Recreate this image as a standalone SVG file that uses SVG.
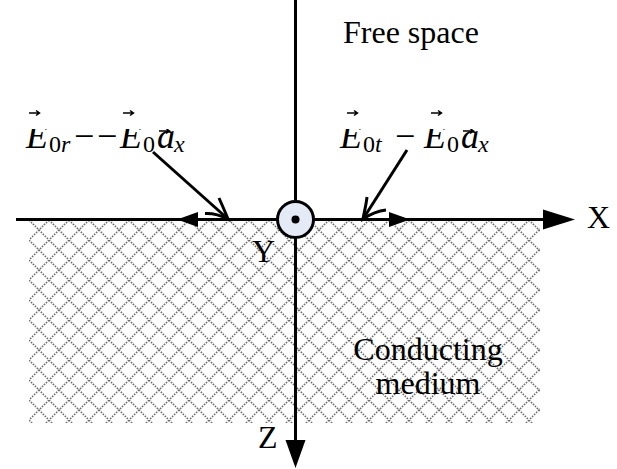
<svg xmlns="http://www.w3.org/2000/svg" width="617" height="469" viewBox="0 0 617 469">
<style>
.t{font-family:"Liberation Serif","Times New Roman",serif;font-size:32px;fill:#000}
.eq{font-size:36px}
.i{font-style:italic}
.s{font-size:24px}
.ax{stroke:#000;stroke-width:3;fill:none}
.head{fill:#000;stroke:none}
.acc{stroke:#000;stroke-width:1.5;fill:none}
</style>
<defs>
<pattern id="hatch" patternUnits="userSpaceOnUse" x="29" y="220" width="20" height="20">
<path d="M0,0 L20,20 M20,0 L0,20" stroke="#6e6e6e" stroke-width="1.7" stroke-dasharray="1.5 1.3" fill="none"/>
</pattern>
<clipPath id="band">
<rect x="0" y="0" width="617" height="116"/>
<rect x="0" y="129" width="617" height="60"/>
</clipPath>
</defs>
<rect id="medium" x="29" y="220" width="511" height="203" fill="url(#hatch)"/>
<g id="axis-x">
<line class="ax" x1="16" y1="219.5" x2="546" y2="219.5"/>
<polygon class="head" points="575,219.5 543,209.5 543,229.5"/>
<polygon class="head" points="177,219.5 198,212 198,227"/>
<polygon class="head" points="410,219.5 389,212 389,227"/>
</g>
<g id="axis-z">
<line class="ax" x1="295.5" y1="0" x2="295.5" y2="442"/>
<polygon class="head" points="295.5,468 285.5,440 305.5,440"/>
</g>
<g id="axis-y">
<circle cx="295.5" cy="219.5" r="18" fill="#E4EAF6" stroke="#000" stroke-width="3"/>
<circle cx="295.5" cy="219.5" r="4" fill="#000"/>
</g>
<g id="connectors">
<path class="ax" d="M153,152 L228,219"/>
<path class="ax" d="M219,198 C223,207 226,214 228,219 C222,216 213,213 205,213.5"/>
<path class="ax" d="M407,150 L363,219"/>
<path class="ax" d="M367,197 C366,206 364,213 363,219 C369,215 377,211 386,210"/>
</g>
<g id="labels">
<text class="t" x="343" y="43">Free space</text>
<text class="t" x="587" y="228">X</text>
<text class="t" x="252" y="262">Y</text>
<text class="t" x="258" y="448">Z</text>
<text class="t" x="428" y="360" text-anchor="middle">Conducting</text>
<text class="t" x="428" y="394" text-anchor="middle">medium</text>
</g>
<g id="label-reflected" clip-path="url(#band)">
<text class="t eq"><tspan class="i" x="26" y="148">E</tspan><tspan class="s" x="49" y="152">0</tspan><tspan class="s i" x="61" y="152">r</tspan><tspan x="74" y="148">−</tspan><tspan x="97" y="148">−</tspan><tspan class="i" x="120" y="148">E</tspan><tspan class="s" x="143" y="152">0</tspan><tspan class="i" x="157" y="148">a</tspan><tspan class="s i" x="174" y="152">x</tspan></text>
<path class="acc" d="M29,113 L39,113 M36,110.5 L39.5,113 L36,115.5"/>
<path class="acc" d="M123,113 L133,113 M130,110.5 L133.5,113 L130,115.5"/>
<path class="acc" d="M159,131 L169,131 M166,128.5 L169.5,131 L166,133.5"/>
</g>
<g id="label-transmitted" clip-path="url(#band)">
<text class="t eq"><tspan class="i" x="340" y="148">E</tspan><tspan class="s" x="363" y="152">0</tspan><tspan class="s i" x="375" y="152">t</tspan><tspan x="395" y="148">−</tspan><tspan class="i" x="424" y="148">E</tspan><tspan class="s" x="447" y="152">0</tspan><tspan class="i" x="461" y="148">a</tspan><tspan class="s i" x="478" y="152">x</tspan></text>
<path class="acc" d="M347,113 L357,113 M354,110.5 L357.5,113 L354,115.5"/>
<path class="acc" d="M431,113 L441,113 M438,110.5 L441.5,113 L438,115.5"/>
<path class="acc" d="M463,131 L473,131 M470,128.5 L473.5,131 L470,133.5"/>
</g>
</svg>
